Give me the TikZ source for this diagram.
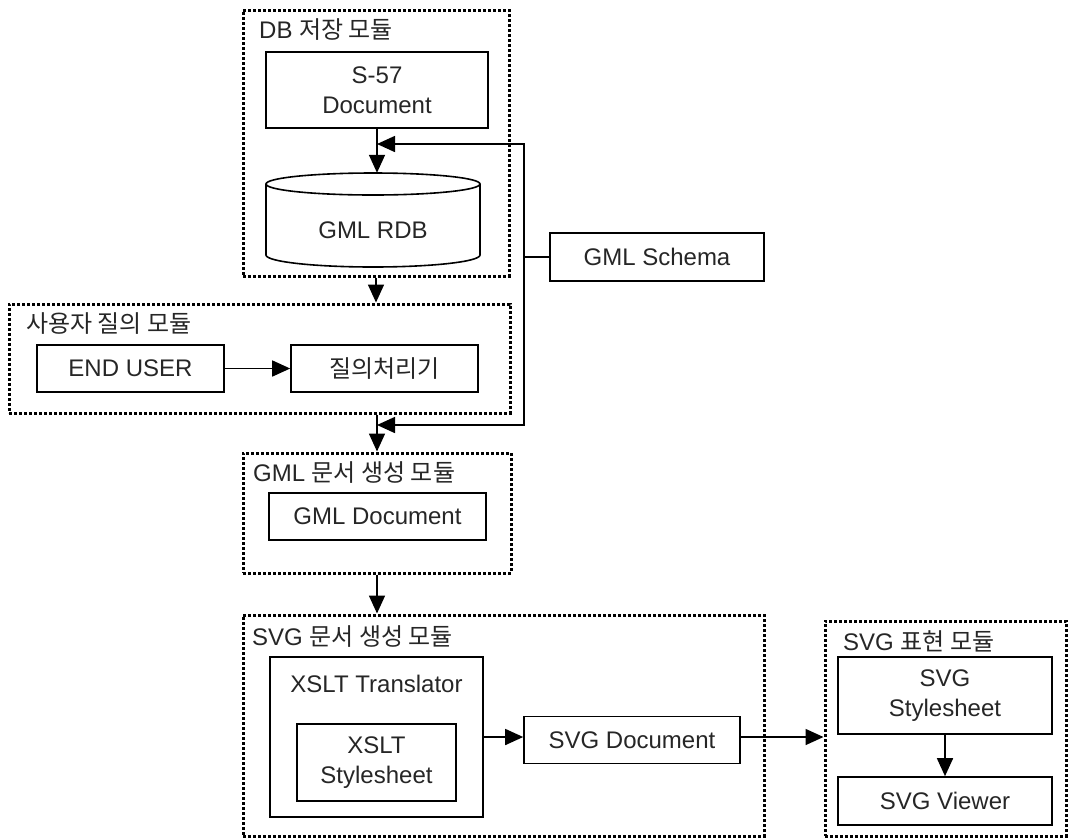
\documentclass[tikz,border=0pt]{standalone}
\usepackage{fontspec}
\setmainfont{Liberation Sans}
\newfontfamily\kr{Noto Sans CJK KR}
\usetikzlibrary{arrows.meta}

\begin{document}
\begin{tikzpicture}[x=1pt,y=-1pt,
  every node/.style={font=\fontsize{24}{30}\selectfont, text=black!85},
  module/.style={draw, line width=3pt, dash pattern=on 3pt off 2pt, inner sep=0pt},
  box/.style={draw, line width=1.6pt, align=center, inner sep=0pt},
  title/.style={anchor=base west, inner sep=0pt},
  link/.style={line width=1.6pt, -{Triangle[length=18pt,width=16pt]}},
  wire/.style={line width=1.6pt}]

\useasboundingbox (0,0) rectangle (1070,839);

% DB storage module
\node[module, minimum width=266pt, minimum height=266pt] (dbmod) at (376,143) {};
\node[title] (dbtitle) at (259,38) {DB {\kr 저장 모듈}};
\node[box, minimum width=222pt, minimum height=76pt] (s57) at (377,90) {S-57\\Document};
% database cylinder
\draw[line width=1.6pt] (373,184) ellipse [x radius=107pt, y radius=11pt];
\draw[line width=1.6pt] (266,184) -- (266,255) arc [start angle=180, end angle=360, x radius=107pt, y radius=12pt] -- (480,184);
\node[inner sep=0pt, minimum width=214pt, minimum height=94pt] (rdb) at (373,220) {};
\node (rdblabel) at (373,230) {GML RDB};

% GML schema
\node[box, minimum width=214pt, minimum height=48pt] (schema) at (657,257) {GML Schema};

% user query module
\node[module, minimum width=501pt, minimum height=109pt] (usermod) at (259.5,358.5) {};
\node[title] (usertitle) at (26,332) {\kr 사용자 질의 모듈};
\node[box, minimum width=187pt, minimum height=47pt] (enduser) at (130.5,368.5) {END USER};
\node[box, minimum width=187pt, minimum height=47pt] (query) at (384.5,368.5) {\kr 질의처리기};

% GML document generation module
\node[module, minimum width=268pt, minimum height=120pt] (gmlmod) at (377,513) {};
\node[title] (gmltitle) at (253,481) {GML {\kr 문서 생성 모듈}};
\node[box, minimum width=217pt, minimum height=47pt] (gmldoc) at (377.5,516.5) {GML Document};

% SVG document generation module
\node[module, minimum width=521pt, minimum height=221pt] (svgmod) at (503.5,725.5) {};
\node[title] (svgtitle) at (252,645) {SVG {\kr 문서 생성 모듈}};
\node[box, minimum width=213pt, minimum height=160pt] (xsltT) at (376.5,737) {};
\node (xsltTlabel) at (376.5,684) {XSLT Translator};
\node[box, minimum width=159pt, minimum height=77pt] (xsltS) at (376.5,762.5) {XSLT\\Stylesheet};
\node[box, minimum width=216pt, minimum height=47pt] (svgdoc) at (632,740) {SVG Document};

% SVG presentation module
\node[module, minimum width=241pt, minimum height=215pt] (viewmod) at (945.5,728.5) {};
\node[title] (viewtitle) at (843,650) {SVG {\kr 표현 모듈}};
\node[box, minimum width=214pt, minimum height=77pt] (svgss) at (945,695.5) {SVG\\Stylesheet};
\node[box, minimum width=214pt, minimum height=48pt] (viewer) at (945,801) {SVG Viewer};

% flow between modules
\draw[link] (s57.south) -- (s57.south |- rdb.north);
\draw[link] (dbmod.south) -- (dbmod.south |- usermod.north);
\draw[link] (enduser.east) -- (query.west);
\draw[link] (usermod.south -| gmlmod.north) -- (gmlmod.north);
\draw[link] (gmlmod.south) -- (gmlmod.south |- svgmod.north);
\draw[link] (xsltT.east) -- (xsltT.east -| svgdoc.west);
\draw[link] (svgdoc.east |- xsltT.east) -- (xsltT.east -| viewmod.west);
\draw[link] (svgss.south) -- (viewer.north);

% schema feeds the database and the document generator
\coordinate (bus) at (524,257);
\coordinate (bustop) at (524,144);
\coordinate (busbot) at (524,425);
\draw[wire] (schema.west) -- (bus);
\draw[link] (bus) -- (bustop) -- (bustop -| s57.south);
\draw[link] (bus) -- (busbot) -- (busbot -| gmlmod.north);
\end{tikzpicture}
\end{document}
